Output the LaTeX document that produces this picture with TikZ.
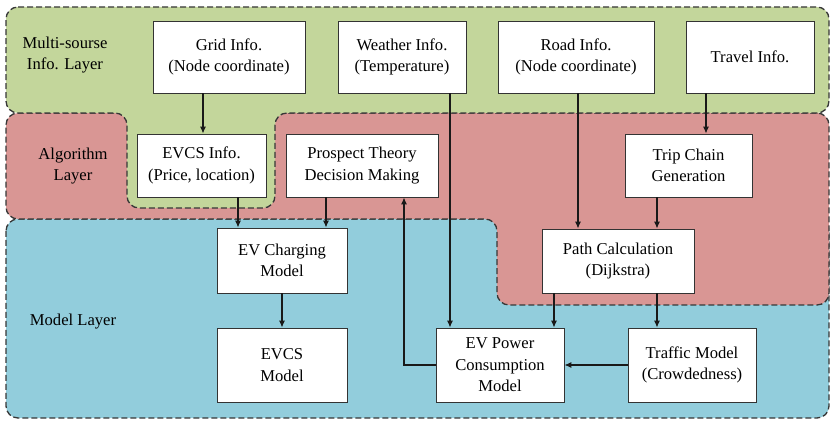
\documentclass[tikz,border=0pt]{standalone}
\usepackage{fontspec}
\setmainfont{Liberation Serif}
\usetikzlibrary{arrows.meta}
\definecolor{infogreen}{RGB}{195,214,155}
\definecolor{algored}{RGB}{217,150,148}
\definecolor{modelblue}{RGB}{146,205,220}
\definecolor{edgegray}{RGB}{55,55,55}
\begin{document}
\begin{tikzpicture}[x=1pt,y=-1pt,
  layer/.style={draw=edgegray,line width=1.3pt,dash pattern=on 6pt off 3pt,rounded corners=12pt},
  box/.style={draw=black!80,fill=white,line width=0.9pt,align=center,inner sep=2pt,
    font=\fontsize{16.6}{21.5}\selectfont},
  lbl/.style={align=center,font=\fontsize{16.6}{21.5}\selectfont},
  arr/.style={draw=black!90,line width=1.1pt,-{Latex[length=7pt,width=6pt]}}]
\useasboundingbox (0,0) rectangle (831,422);

% model layer (bottom)
\path[layer,fill=modelblue] (6,219) rectangle (829,418);
% algorithm layer, with its extension around the path calculation
\path[layer,fill=algored] (6,113) -- (829,113) -- (829,305) -- (497,305) -- (497,219) -- (6,219) -- cycle;
% multi-source information layer, with its pocket around the EVCS info
\path[layer,fill=infogreen] (6,7) -- (829,7) -- (829,113) -- (275,113) -- (275,208) -- (127,208) -- (127,113) -- (6,113) -- cycle;

% layer titles
\node[lbl] (tinfo) at (65,55) {Multi-sourse\\Info. Layer};
\node[lbl] (talgo) at (73,166) {Algorithm\\Layer};
\node[lbl] (tmodel) at (73,322) {Model Layer};

% information sources
\node[box,minimum width=152pt,minimum height=72pt] (grid) at (229,57) {Grid Info.\\(Node coordinate)};
\node[box,minimum width=128pt,minimum height=72pt] (weather) at (402,57) {Weather Info.\\(Temperature)};
\node[box,minimum width=156pt,minimum height=72pt] (road) at (576,57) {Road Info.\\(Node coordinate)};
\node[box,minimum width=128pt,minimum height=72pt] (travel) at (750,57) {Travel Info.};

% algorithm blocks
\node[box,minimum width=129pt,minimum height=63pt] (evcsinfo) at (201.5,165.5) {EVCS Info.\\(Price, location)};
\node[box,minimum width=152pt,minimum height=63pt] (prospect) at (362,165.5) {Prospect Theory\\Decision Making};
\node[box,minimum width=127pt,minimum height=63pt] (trip) at (688.5,165.5) {Trip Chain\\Generation};
\node[box,minimum width=152pt,minimum height=64pt] (path) at (618,261) {Path Calculation\\(Dijkstra)};

% models
\node[box,minimum width=130pt,minimum height=65pt] (charging) at (282,260.5) {EV Charging\\Model};
\node[box,minimum width=130pt,minimum height=74pt] (evcs) at (282,365) {EVCS\\Model};
\node[box,minimum width=128pt,minimum height=74pt] (power) at (500,365) {EV Power\\Consumption\\Model};
\node[box,minimum width=128pt,minimum height=74pt] (traffic) at (692,365) {Traffic Model\\(Crowdedness)};

% connectors
\draw[arr] ([xshift=-26pt]grid.south) -- ([xshift=-26pt]grid.south |- evcsinfo.north);
\draw[arr] ([xshift=36.5pt]evcsinfo.south) -- ([xshift=36.5pt]evcsinfo.south |- charging.north);
\draw[arr] ([xshift=-36pt]prospect.south) -- ([xshift=-36pt]prospect.south |- charging.north);
\draw[arr] ([xshift=48pt]weather.south) -- ([xshift=48pt]weather.south |- power.north);
\draw[arr] ([xshift=2pt]road.south) -- ([xshift=2pt]road.south |- path.north);
\draw[arr] ([xshift=-44pt]travel.south) -- ([xshift=-44pt]travel.south |- trip.north);
\draw[arr] ([xshift=-31.5pt]trip.south) -- ([xshift=-31.5pt]trip.south |- path.north);
\draw[arr] ([xshift=-64pt]path.south) -- ([xshift=-64pt]path.south |- power.north);
\draw[arr] ([xshift=39pt]path.south) -- ([xshift=39pt]path.south |- traffic.north);
\draw[arr] (charging.south) -- (evcs.north);
\draw[arr] (traffic.west) -- (power.east);
\draw[arr] (power.west) -| ([xshift=42pt]prospect.south);
\end{tikzpicture}
\end{document}
